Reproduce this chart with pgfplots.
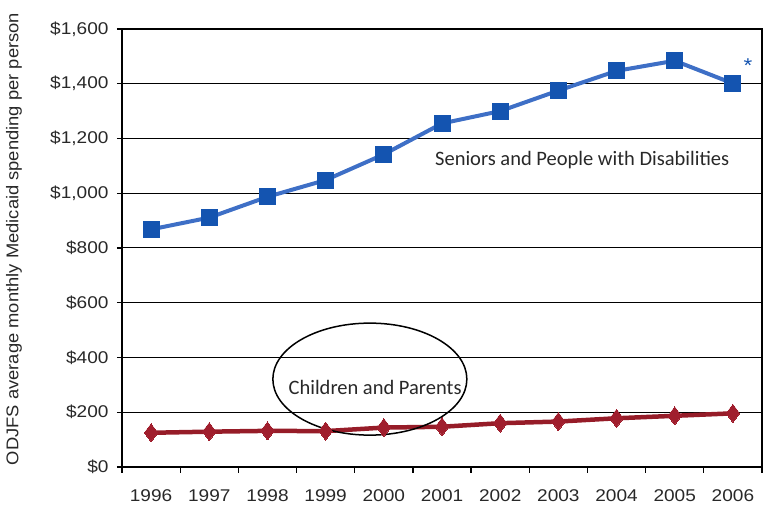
\documentclass[border=0pt]{standalone}
\usepackage{pgfplots}
\pgfplotsset{compat=1.18}
\usepackage{fontspec}
\setmainfont{Liberation Sans}
\newfontfamily\tickfont[FakeStretch=1.12]{Liberation Sans}
\newfontfamily\labfont[FakeStretch=1.08]{Liberation Sans}
\newfontfamily\annfont{Carlito}
\definecolor{blueline}{RGB}{62,111,198}
\definecolor{bluemark}{RGB}{20,84,176}
\definecolor{redline}{RGB}{150,28,40}
\definecolor{redmark}{RGB}{160,30,45}
\definecolor{txtgray}{RGB}{40,40,40}
\begin{document}
\begin{tikzpicture}[x=1bp,y=1bp]
\begin{axis}[
  at={(0,0)}, anchor=south west,
  scale only axis, width=640bp, height=438bp,
  xmin=-0.5, xmax=10.5, ymin=0, ymax=1600,
  xtick={0,1,2,3,4,5,6,7,8,9,10},
  xticklabels={1996,1997,1998,1999,2000,2001,2002,2003,2004,2005,2006},
  minor xtick={-0.5,0.5,1.5,2.5,3.5,4.5,5.5,6.5,7.5,8.5,9.5,10.5},
  ytick={0,200,400,600,800,1000,1200,1400,1600},
  yticklabels={\$0,\$200,\$400,\$600,\$800,{\$1,000},{\$1,200},{\$1,400},{\$1,600}},
  major x tick style={draw=none},
  tick align=outside,
  major tick length=5bp, minor tick length=6bp,
  tick style={black, line width=1.2bp},
  xtick pos=bottom, ytick pos=left,
  ymajorgrids, grid style={black, line width=1bp},
  axis line style={black, line width=1.3bp},
  ticklabel style={font=\tickfont\fontsize{17bp}{20bp}\selectfont, text=txtgray},
  xticklabel style={yshift=-14bp},
  yticklabel style={xshift=-5bp},
  /pgf/number format/assume math mode=true,
  clip=false,
]
\addplot[redline, line width=4.5bp, mark=diamond*, mark size=9bp,
  mark options={fill=redmark, draw=redmark, line width=0pt}]
  coordinates {(0,125) (1,129) (2,132) (3,131) (4,144) (5,147) (6,160) (7,166) (8,178) (9,187) (10,196)};
\addplot[blueline, line width=4bp, mark=square*, mark size=8bp,
  mark options={fill=bluemark, draw=bluemark, line width=0pt}]
  coordinates {(0,868) (1,911) (2,987) (3,1048) (4,1142) (5,1255) (6,1300) (7,1375) (8,1447) (9,1484) (10,1401)};
\node[font=\annfont\fontsize{20.5bp}{22bp}\selectfont, text=txtgray] at (axis cs:7.41,1121) {Seniors and People with Disabilities};
\node[font=\annfont\fontsize{20.5bp}{22bp}\selectfont, text=txtgray] at (axis cs:3.85,292) {Children and Parents};
\draw[black, line width=1.5bp] (axis cs:3.76,321) ellipse [x radius=97bp, y radius=56bp];
\node[font=\tickfont\fontsize{20bp}{22bp}\selectfont, text=bluemark] at (axis cs:10.26,1468) {*};
\end{axis}
\node[rotate=90, font=\labfont\fontsize{17bp}{20bp}\selectfont, text=txtgray] at (-108,228) {ODJFS average monthly Medicaid spending per person};
\pgfresetboundingbox
\path[use as bounding box] (-122,-41) rectangle (648,467);
\end{tikzpicture}
\end{document}
